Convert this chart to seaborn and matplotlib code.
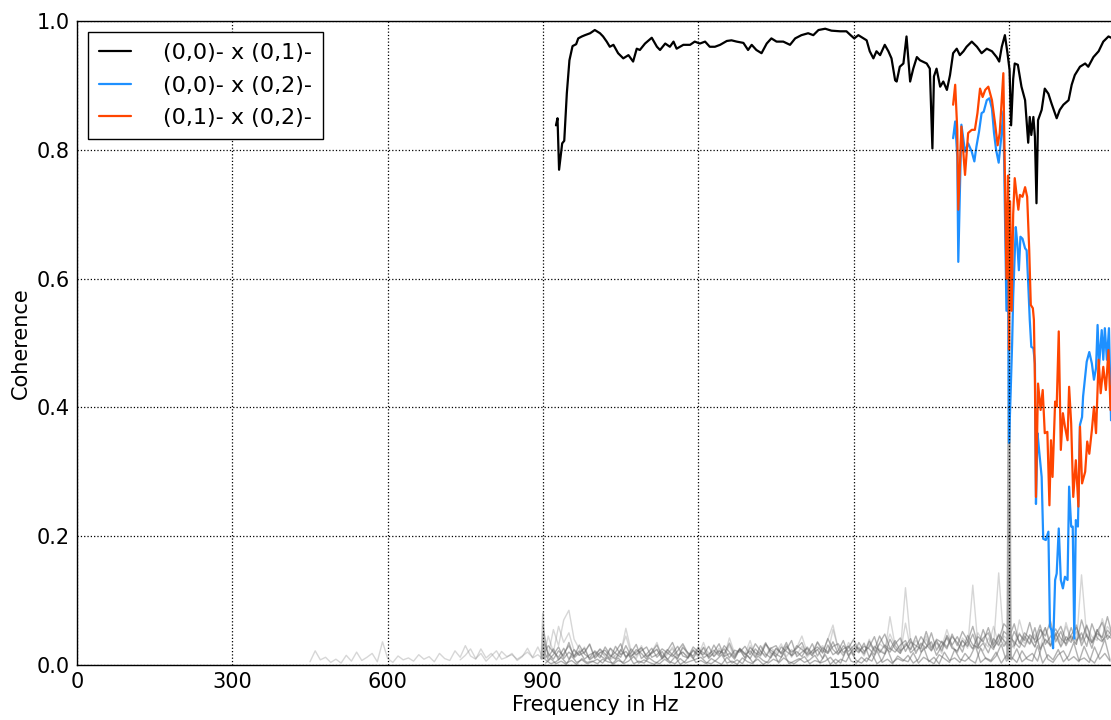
import numpy as np
import pandas as pd
import matplotlib
matplotlib.use("Agg")
import matplotlib.pyplot as plt
import seaborn as sns

# ---- data ----
# coherence of the three main pairs
black_freq = [925, 928, 931, 937, 941, 946, 951, 957, 964, 968,
              975, 981, 991, 1000, 1010, 1016, 1023, 1029, 1036, 1045,
              1055, 1065, 1074, 1081, 1087, 1097, 1110, 1120, 1126, 1136,
              1145, 1152, 1158, 1171, 1184, 1193, 1203, 1213, 1222, 1232,
              1242, 1255, 1264, 1274, 1287, 1296, 1303, 1312, 1322, 1332,
              1341, 1351, 1364, 1377, 1387, 1399, 1412, 1422, 1432, 1445,
              1457, 1474, 1486, 1494, 1501, 1509, 1519, 1525, 1531, 1538,
              1544, 1551, 1560, 1567, 1573, 1580, 1583, 1589, 1596, 1602,
              1609, 1615, 1622, 1628, 1641, 1647, 1652, 1655, 1660, 1667,
              1673, 1680, 1686, 1692, 1699, 1705, 1712, 1718, 1728, 1738,
              1747, 1757, 1767, 1776, 1781, 1786, 1792, 1797, 1801, 1804,
              1808, 1811, 1817, 1824, 1831, 1837, 1840, 1843, 1847, 1850,
              1853, 1856, 1863, 1869, 1876, 1882, 1892, 1898, 1905, 1915,
              1921, 1927, 1937, 1947, 1953, 1963, 1973, 1982, 1992, 2000]
black_coh = [0.838, 0.849, 0.769, 0.810, 0.814, 0.888, 0.939, 0.961, 0.964, 0.973,
             0.976, 0.978, 0.981, 0.986, 0.981, 0.976, 0.968, 0.960, 0.963, 0.950,
             0.942, 0.947, 0.937, 0.957, 0.955, 0.965, 0.974, 0.960, 0.955, 0.965,
             0.960, 0.968, 0.957, 0.963, 0.963, 0.968, 0.965, 0.968, 0.960, 0.960,
             0.963, 0.969, 0.970, 0.968, 0.966, 0.955, 0.963, 0.955, 0.950, 0.965,
             0.973, 0.968, 0.968, 0.963, 0.973, 0.978, 0.981, 0.978, 0.986, 0.988,
             0.985, 0.984, 0.984, 0.978, 0.973, 0.978, 0.973, 0.970, 0.953, 0.942,
             0.953, 0.947, 0.963, 0.953, 0.942, 0.908, 0.906, 0.929, 0.934, 0.976,
             0.906, 0.926, 0.944, 0.939, 0.934, 0.926, 0.802, 0.914, 0.926, 0.898,
             0.906, 0.893, 0.916, 0.950, 0.957, 0.947, 0.953, 0.960, 0.968, 0.960,
             0.950, 0.957, 0.953, 0.944, 0.937, 0.960, 0.978, 0.950, 0.924, 0.838,
             0.910, 0.934, 0.932, 0.898, 0.877, 0.811, 0.851, 0.823, 0.851, 0.820,
             0.717, 0.846, 0.862, 0.895, 0.887, 0.872, 0.849, 0.862, 0.870, 0.877,
             0.901, 0.916, 0.929, 0.934, 0.929, 0.944, 0.953, 0.968, 0.976, 0.973]

blue_freq = [1692, 1696, 1700, 1702, 1708, 1715, 1721, 1728, 1733, 1737,
             1742, 1747, 1751, 1757, 1762, 1767, 1771, 1775, 1780, 1785,
             1789, 1795, 1798, 1800, 1803, 1806, 1808, 1813, 1816, 1819,
             1822, 1826, 1831, 1834, 1837, 1840, 1843, 1847, 1850, 1852,
             1855, 1858, 1863, 1866, 1871, 1876, 1879, 1882, 1885, 1889,
             1892, 1896, 1900, 1904, 1908, 1913, 1916, 1920, 1923, 1926,
             1929, 1933, 1937, 1941, 1943, 1950, 1955, 1960, 1964, 1968,
             1971, 1974, 1979, 1982, 1985, 1989, 1993, 1997, 2000]
blue_coh = [0.818, 0.844, 0.789, 0.626, 0.839, 0.797, 0.810, 0.797, 0.782, 0.805,
            0.828, 0.857, 0.859, 0.877, 0.880, 0.864, 0.826, 0.800, 0.780, 0.820,
            0.860, 0.550, 0.620, 0.345, 0.420, 0.500, 0.572, 0.680, 0.654, 0.613,
            0.665, 0.662, 0.647, 0.644, 0.593, 0.536, 0.494, 0.492, 0.468, 0.250,
            0.360, 0.334, 0.292, 0.196, 0.194, 0.207, 0.060, 0.054, 0.026, 0.132,
            0.142, 0.212, 0.132, 0.119, 0.137, 0.132, 0.277, 0.215, 0.215, 0.041,
            0.225, 0.215, 0.373, 0.385, 0.417, 0.471, 0.486, 0.468, 0.443, 0.461,
            0.528, 0.466, 0.520, 0.474, 0.523, 0.474, 0.523, 0.380, 0.420]

orange_freq = [1692, 1696, 1700, 1702, 1708, 1715, 1721, 1728, 1734, 1739,
               1744, 1749, 1754, 1760, 1767, 1773, 1778, 1782, 1789, 1795,
               1798, 1800, 1802, 1805, 1808, 1811, 1815, 1818, 1821, 1826,
               1831, 1835, 1839, 1842, 1846, 1848, 1850, 1852, 1856, 1861,
               1865, 1869, 1874, 1878, 1881, 1884, 1889, 1892, 1896, 1900,
               1904, 1908, 1913, 1916, 1920, 1924, 1929, 1934, 1937, 1941,
               1947, 1951, 1955, 1960, 1964, 1968, 1973, 1977, 1982, 1987,
               1992, 1996, 2000]
orange_coh = [0.870, 0.901, 0.831, 0.707, 0.836, 0.761, 0.826, 0.831, 0.831, 0.857,
              0.895, 0.882, 0.893, 0.898, 0.877, 0.841, 0.807, 0.826, 0.919, 0.600,
              0.760, 0.490, 0.720, 0.550, 0.700, 0.756, 0.727, 0.707, 0.730, 0.727,
              0.742, 0.727, 0.644, 0.559, 0.554, 0.536, 0.443, 0.261, 0.437, 0.396,
              0.427, 0.360, 0.362, 0.248, 0.349, 0.292, 0.409, 0.401, 0.518, 0.334,
              0.391, 0.370, 0.349, 0.432, 0.375, 0.261, 0.318, 0.246, 0.370, 0.282,
              0.300, 0.347, 0.328, 0.365, 0.401, 0.360, 0.474, 0.422, 0.463, 0.427,
              0.489, 0.396, 0.450]

labels = ["(0,0)- x (0,1)-", "(0,0)- x (0,2)-", "(0,1)- x (0,2)-"]

# background pairs (coherence in thousandths, 10 Hz bins)
step_hz = 10
light1_start = 450
light1 = [5, 22, 8, 12, 4, 9, 3, 15, 6, 20,
          7, 12, 18, 5, 36, 10, 4, 14, 8, 11,
          6, 16, 9, 13, 5, 18, 10, 7, 22, 12,
          30, 14, 9, 25, 11, 18, 8, 21, 13, 16,
          9, 14, 20, 12, 28, 10, 15, 55, 30, 70,
          85, 40, 25, 18, 33, 12, 20, 15, 26, 10,
          18, 57, 22, 14, 30, 11, 19, 25, 9, 16,
          28, 13, 20, 10, 24, 15, 35, 12, 18, 22,
          14, 30, 11, 25, 17, 38, 12, 21, 15, 27,
          19, 33, 13, 24, 16, 29, 12, 22, 35, 18,
          40, 62, 25, 15, 30, 19, 27, 14, 33, 21,
          25, 18, 75, 30, 20, 120, 35, 22, 28, 40,
          24, 35, 18, 45, 28, 20, 38, 26, 124, 30,
          22, 42, 28, 143, 35, 25, 30, 50, 33, 45,
          28, 55, 38, 30, 48, 35, 60, 40, 32, 140,
          45, 38, 55, 42, 60, 48]
light2_start = 740
light2 = [8, 15, 25, 10, 18, 6, 14, 22, 9, 12,
          18, 7, 13, 26, 11, 16, 9, 45, 20, 60,
          35, 50, 22, 15, 28, 9, 17, 24, 12, 8,
          15, 22, 45, 18, 10, 26, 14, 20, 35, 12,
          18, 25, 10, 30, 15, 22, 12, 28, 19, 14,
          26, 13, 42, 18, 24, 11, 30, 16, 22, 35,
          14, 25, 18, 31, 12, 27, 45, 20, 15, 24,
          30, 18, 55, 26, 14, 35, 22, 28, 16, 40,
          20, 33, 26, 48, 30, 18, 65, 24, 38, 29,
          45, 22, 34, 28, 55, 30, 19, 42, 33, 25,
          50, 36, 28, 60, 32, 45, 38, 26, 70, 40,
          32, 48, 25, 58, 36, 42, 30, 66, 38, 52,
          35, 60, 44, 38, 72, 46, 55]
dark_start = 900
dark1 = [60, 12, 25, 8, 18, 30, 14, 22, 9, 16,
         20, 11, 28, 15, 9, 24, 13, 19, 32, 10,
         17, 26, 12, 21, 8, 18, 29, 14, 11, 23,
         15, 27, 10, 20, 33, 13, 18, 9, 25, 16,
         22, 12, 30, 17, 11, 26, 19, 35, 14, 21,
         13, 28, 18, 24, 10, 31, 16, 22, 38, 15,
         26, 19, 34, 12, 29, 22, 17, 40, 25, 18,
         33, 24, 45, 20, 28, 36, 15, 30, 42, 26,
         22, 38, 29, 48, 25, 34, 19, 41, 30, 52,
         45, 36, 27, 45, 33, 58, 24, 40, 31, 50,
         28, 44, 35, 62, 30, 48, 26, 55, 38, 46,
         40]
dark2 = [40, 18, 9, 22, 14, 35, 11, 19, 26, 8,
         14, 25, 17, 10, 29, 16, 21, 12, 24, 18,
         9, 20, 31, 13, 24, 16, 10, 27, 19, 14,
         28, 11, 17, 23, 14, 30, 20, 12, 26, 18,
         10, 25, 16, 34, 19, 13, 28, 21, 15, 30,
         24, 17, 33, 14, 27, 20, 36, 18, 25, 29,
         16, 35, 21, 28, 44, 19, 31, 24, 38, 22,
         29, 41, 18, 34, 26, 50, 23, 37, 28, 44,
         35, 20, 46, 31, 27, 55, 33, 24, 48, 38,
         30, 52, 36, 28, 47, 39, 62, 32, 44, 56,
         41, 33, 58, 37, 50, 29, 64, 42, 36, 54,
         45]
dark3 = [25, 8, 16, 28, 10, 20, 13, 31, 17, 11,
         22, 15, 9, 26, 18, 12, 30, 14, 20, 27,
         13, 18, 24, 10, 22, 35, 15, 20, 12, 28,
         20, 16, 29, 13, 22, 18, 34, 15, 24, 11,
         27, 19, 14, 32, 23, 17, 12, 29, 20, 26,
         35, 15, 22, 28, 19, 41, 24, 16, 30, 21,
         30, 25, 18, 37, 23, 45, 28, 20, 33, 42,
         21, 36, 30, 25, 52, 27, 38, 22, 46, 31,
         44, 28, 36, 60, 30, 42, 50, 27, 38, 64,
         55, 30, 48, 38, 66, 35, 42, 58, 29, 46,
         60, 38, 45, 32, 70, 44, 35, 52, 66, 40,
         50]
dark4 = [15, 30, 20, 12, 26, 9, 24, 15, 20, 32,
         10, 19, 23, 13, 20, 33, 11, 25, 16, 22,
         28, 12, 16, 25, 19, 13, 22, 33, 18, 10,
         24, 19, 13, 31, 17, 25, 11, 23, 20, 29,
         16, 33, 22, 12, 26, 30, 17, 24, 38, 13,
         20, 26, 14, 36, 23, 18, 29, 33, 19, 27,
         40, 21, 29, 25, 16, 34, 48, 26, 20, 31,
         38, 19, 27, 44, 32, 22, 40, 35, 25, 48,
         30, 52, 38, 25, 44, 36, 58, 32, 46, 29,
         42, 64, 33, 50, 41, 28, 55, 45, 68, 36,
         52, 30, 47, 58, 39, 62, 34, 49, 43, 75,
         44]
dark_start_b = 905
dark5 = [3, 10, 2, 6, 1, 14, 4, 8, 2, 5,
         9, 3, 12, 1, 7, 4, 16, 2, 6, 3,
         11, 5, 2, 9, 3, 13, 1, 6, 18, 4,
         7, 2, 10, 5, 1, 12, 3, 8, 2, 15,
         4, 9, 1, 6, 20, 3, 11, 5, 2, 8,
         13, 2, 7, 4, 16, 1, 9, 3, 22, 6,
         3, 12, 5, 18, 2, 8, 25, 4, 10, 6,
         15, 3, 9, 28, 5, 12, 2, 20, 7, 11,
         4, 18, 8, 3, 26, 10, 5, 14, 32, 6,
         12, 4, 22, 9, 6, 30, 3, 16, 8, 24,
         5, 14, 35, 7, 11, 4, 28, 9, 18, 6]
dark6 = [8, 2, 5, 12, 3, 7, 1, 10, 4, 6,
         2, 9, 5, 3, 11, 2, 6, 13, 3, 8,
         4, 1, 7, 14, 5, 2, 10, 3, 6, 9,
         12, 4, 2, 8, 16, 3, 6, 1, 11, 5,
         2, 14, 7, 3, 9, 5, 18, 2, 6, 10,
         4, 8, 15, 3, 6, 12, 2, 9, 5, 20,
         7, 3, 11, 6, 22, 4, 9, 2, 14, 8,
         5, 19, 3, 12, 7, 2, 16, 10, 4, 24,
         9, 6, 13, 30, 4, 11, 7, 20, 3, 15,
         8, 25, 5, 12, 18, 6, 34, 9, 4, 16,
         22, 7, 13, 5, 29, 10, 3, 18, 40, 8]

# narrow mains-harmonic peaks of the background pairs
harmonic_freqs = [900, 1800]
harmonic_peaks = [[0.08, 0.05, 0.03], [0.77, 0.60, 0.42, 0.25, 0.14]]

# ---- plotting ----
sns.set_style("white")
plt.rcParams["font.family"] = ["DejaVu Sans"]
plt.rcParams["font.size"] = 15
for key in ["text.color", "axes.labelcolor", "xtick.color", "ytick.color"]:
    plt.rcParams[key] = "black"

fig = plt.figure(figsize=(11.11, 7.2), dpi=100)
ax = fig.add_axes([77 / 1111, 55 / 720, 1035.6 / 1111, 644 / 720])


def bg_frame(start, vals):
    f = start + step_hz * np.arange(len(vals))
    return pd.DataFrame({"freq": f, "coh": np.array(vals) / 1000.0})


for start, vals in [(light1_start, light1), (light2_start, light2)]:
    d = bg_frame(start, vals)
    sns.lineplot(data=d, x="freq", y="coh", ax=ax, color="0.55", alpha=0.35,
                 lw=1, estimator=None, sort=False)
for start, vals in [(dark_start, dark1), (dark_start, dark2), (dark_start, dark3),
                    (dark_start, dark4), (dark_start_b, dark5), (dark_start_b, dark6)]:
    d = bg_frame(start, vals)
    sns.lineplot(data=d, x="freq", y="coh", ax=ax, color="0.4", alpha=0.5,
                 lw=1, estimator=None, sort=False)
for f0, peaks in zip(harmonic_freqs, harmonic_peaks):
    for h in peaks:
        sns.lineplot(x=[f0 - 3, f0, f0 + 3], y=[0.01, h, 0.01], ax=ax,
                     color="0.6", alpha=0.4, lw=1.5, estimator=None, sort=False)

sns.lineplot(x=black_freq, y=black_coh, ax=ax, color="black", lw=1.6,
             label=labels[0], estimator=None, sort=False)
sns.lineplot(x=blue_freq, y=blue_coh, ax=ax, color="#1e90ff", lw=1.6,
             label=labels[1], estimator=None, sort=False)
sns.lineplot(x=orange_freq, y=orange_coh, ax=ax, color="#ff4500", lw=1.6,
             label=labels[2], estimator=None, sort=False)

ax.set_xlim(0, 2000)
ax.set_ylim(0, 1.0)
ax.set_xticks(np.arange(0, 2001, 300))
ax.set_yticks(np.arange(0, 1.01, 0.2))
ax.set_yticklabels([f"{v:.1f}" for v in np.arange(0, 1.01, 0.2)])
ax.tick_params(length=0, labelsize=15, pad=5)
ax.set_xlabel("Frequency in Hz", fontsize=15, labelpad=2)
ax.set_ylabel("Coherence", fontsize=15, labelpad=4.5)

ax.grid(True, color="black", linestyle=":", lw=0.9)
ax.set_axisbelow(False)
for s in ax.spines.values():
    s.set_color("black")
    s.set_linewidth(1.0)

leg = ax.legend(loc="upper left", fontsize=16, frameon=True, fancybox=False,
                handlelength=1.45, handletextpad=1.4, labelspacing=0.56,
                borderpad=0.5, borderaxespad=0.5)
leg.get_frame().set_edgecolor("black")
leg.get_frame().set_linewidth(1.0)
leg.get_frame().set_alpha(1.0)

fig.savefig("out.png", dpi=100)
